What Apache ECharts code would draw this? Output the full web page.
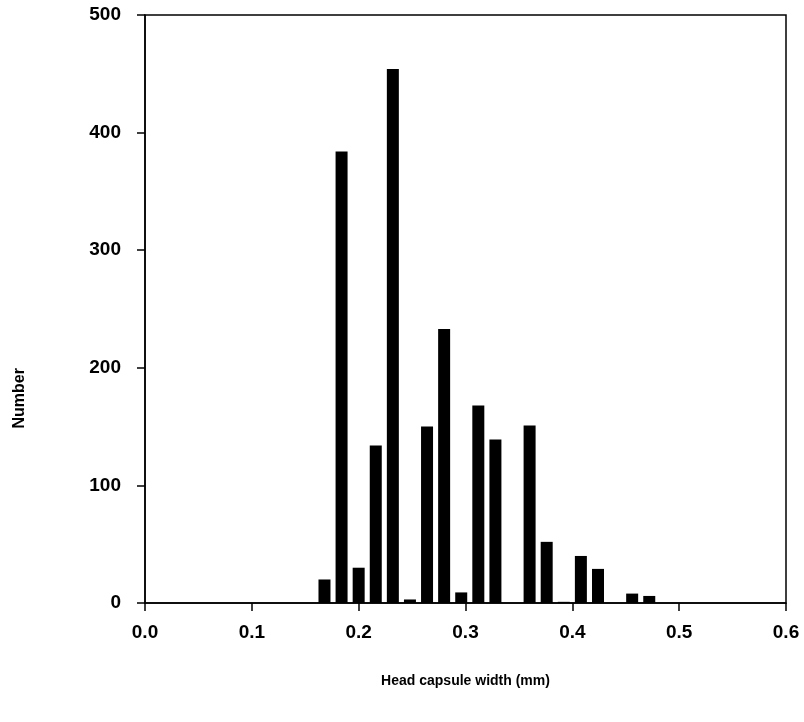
<!DOCTYPE html>
<html>
<head>
<meta charset="utf-8">
<script src="https://cdn.jsdelivr.net/npm/echarts@6/dist/echarts.min.js"></script>
<style>
  html, body { margin: 0; padding: 0; background: #fff; }
  #chart { width: 804px; height: 722px; }
</style>
</head>
<body>
<div id="chart"></div>
<script>
// head capsule width bins (mm) and counts
const widths = [0.168, 0.184, 0.200, 0.216, 0.232, 0.248, 0.264, 0.280, 0.296, 0.312,
                0.328, 0.344, 0.360, 0.376, 0.392, 0.408, 0.424, 0.440, 0.456, 0.472];
const counts = [20, 384, 30, 134, 454, 3, 150, 233, 9, 168,
                139, 0, 151, 52, 1, 40, 29, 0, 8, 6];
const xTicks = [0.0, 0.1, 0.2, 0.3, 0.4, 0.5, 0.6];
const yTicks = [0, 100, 200, 300, 400, 500];

const font = 'Liberation Sans, Arial, sans-serif';
const chart = echarts.init(document.getElementById('chart'));

const option = {
    animation: false,
    grid: {
        left: 145, right: 18, top: 15, bottom: 119,
        show: true, borderColor: '#000', borderWidth: 1.5
    },
    xAxis: {
        type: 'value',
        min: xTicks[0],
        max: xTicks[xTicks.length - 1],
        interval: 0.1,
        name: 'Head capsule width (mm)',
        nameLocation: 'middle',
        nameGap: 71,
        nameTextStyle: { fontFamily: font, fontWeight: 'bold', fontSize: 14, color: '#000' },
        axisLine: { show: true, onZero: false, lineStyle: { color: '#000', width: 1.5 } },
        axisTick: { show: true, inside: false, length: 8, lineStyle: { color: '#000', width: 1.5 } },
        axisLabel: {
            margin: 20, color: '#000', fontFamily: font, fontWeight: 'bold', fontSize: 19,
            formatter: v => v.toFixed(1)
        },
        splitLine: { show: false }
    },
    yAxis: {
        type: 'value',
        min: yTicks[0],
        max: yTicks[yTicks.length - 1],
        interval: 100,
        axisLine: { show: true, lineStyle: { color: '#000', width: 1.5 } },
        axisTick: { show: true, inside: false, length: 8, lineStyle: { color: '#000', width: 1.5 } },
        axisLabel: { margin: 24, color: '#000', fontFamily: font, fontWeight: 'bold', fontSize: 19 },
        splitLine: { show: false }
    },
    graphic: [{
        type: 'text',
        left: 12,
        top: 368,
        rotation: Math.PI / 2,
        style: {
            text: 'Number',
            fontFamily: font, fontWeight: 'bold', fontSize: 16, fill: '#000'
        }
    }],
    series: [{
        type: 'bar',
        barWidth: 12,
        itemStyle: { color: '#000' },
        data: widths.map((w, i) => [w, counts[i]])
    }]
};

chart.setOption(option);
window.addEventListener('resize', () => chart.resize());
</script>
</body>
</html>
